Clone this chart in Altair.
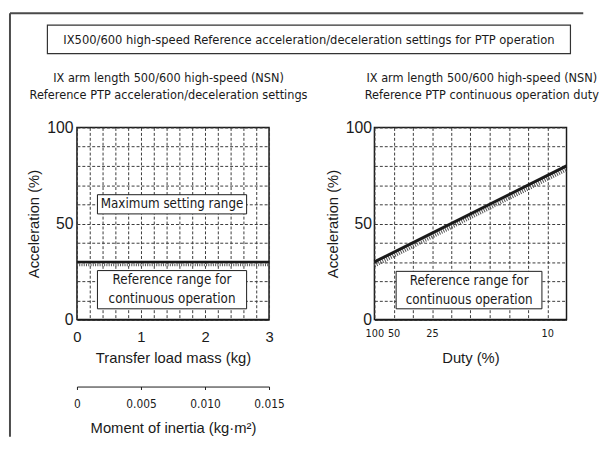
import altair as alt
import pandas as pd

# ---------------- data ----------------
# left panel: reference acceleration vs transfer load mass
mass_line_kg = [0, 3]
mass_line_acc = [30, 30]
mass_grid = [0, 0.2, 0.4, 0.6, 0.8, 1.0, 1.2, 1.4, 1.6, 1.8, 2.0, 2.2, 2.4, 2.6, 2.8, 3.0]
acc_grid = [0, 10, 20, 30, 40, 50, 60, 70, 80, 90, 100]
inertia_ticks = [0, 0.005, 0.010, 0.015]

# right panel: reference acceleration vs duty (axis linear in 1/duty)
duty_line_pct = [100, 9.0909]
duty_line_acc = [30, 80]
duty_grid_pct = [100, 50, 33.333, 25, 20, 16.667, 14.286, 12.5, 11.111, 10, 9.0909]
duty_labels = [100, 50, 25, 10]

NARROW = "DejaVu Sans Condensed"
REG = "Liberation Sans"
INK = "#1a1a1a"
GRID = "#3a3a3a"
W = 195
H = 195

yscale = alt.Scale(domain=[0, 100], nice=False)


def y_axis(label_pad, title_x):
    return alt.Axis(
        values=acc_grid, tickCount=40,
        labelExpr="datum.value % 50 == 0 ? format(datum.value, 'd') : ''",
        labelOverlap=False, labelFlush=False,
        title="Acceleration (%)", titleFont=REG, titleFontSize=15,
        titleFontWeight="normal", titleColor=INK,
        titleX=title_x, titleBaseline="middle",
        labelFont=REG, labelFontSize=16, labelColor=INK, labelPadding=label_pad,
        ticks=False, tickSize=0, domain=False,
        grid=True, gridDash=[3, 2], gridColor=GRID, gridWidth=1,
    )


one = pd.DataFrame({"k": [0]})

# ---------------- left chart ----------------
left_df = pd.DataFrame({"mass": mass_line_kg, "acc": mass_line_acc})
lbase = alt.Chart(left_df)
lx = alt.X(
    "mass:Q", scale=alt.Scale(domain=[0, 3], nice=False, zero=False),
    axis=alt.Axis(
        values=mass_grid, tickCount=40,
        labelExpr="datum.value % 1 == 0 ? format(datum.value, 'd') : ''",
        labelOverlap=False, labelFlush=False,
        title="Transfer load mass (kg)", titleFont=REG, titleFontSize=15,
        titleFontWeight="normal", titleColor=INK, titleY=39, titleBaseline="middle",
        labelFont=REG, labelFontSize=15, labelColor=INK,
        labelPadding=17, labelBaseline="middle",
        ticks=False, tickSize=0, domain=True, domainColor=INK, domainWidth=1.5,
        grid=True, gridDash=[3, 2], gridColor=GRID, gridWidth=1,
    ),
)
ly = alt.Y("acc:Q", scale=yscale, axis=y_axis(4, -44))

l_hatch = lbase.mark_line(color="#555", strokeWidth=3, strokeDash=[1, 1.3], yOffset=3).encode(x=lx, y=ly)
l_line = lbase.mark_line(color=INK, strokeWidth=2.5).encode(x=lx, y=ly)

l_box1 = alt.Chart(one).mark_rect(fill="white", stroke=INK, strokeWidth=1).encode(
    x=alt.datum(0.32), x2=alt.datum(2.65), y=alt.datum(65), y2=alt.datum(55))
l_txt1 = alt.Chart(one).mark_text(text="Maximum setting range", font=NARROW, fontSize=13.5,
                                 color=INK, baseline="middle").encode(
    x=alt.datum(1.485), y=alt.datum(60))
l_box2 = alt.Chart(one).mark_rect(fill="white", stroke=INK, strokeWidth=1).encode(
    x=alt.datum(0.32), x2=alt.datum(2.65), y=alt.datum(25.5), y2=alt.datum(5.6))
l_txt2 = alt.Chart(one).mark_text(text=["Reference range for", "continuous operation"],
                                 font=NARROW, fontSize=13.5, lineHeight=19,
                                 color=INK, baseline="middle").encode(
    x=alt.datum(1.485), y=alt.datum(20.5))

# decorations (page frame, title box, subtitles) placed relative to left plot
frame_top = alt.Chart(one).mark_rule(color="#4a4a4a", strokeWidth=2).encode(
    x=alt.value(-68), x2=alt.value(514), y=alt.value(-116))
frame_left = alt.Chart(one).mark_rule(color="#4a4a4a", strokeWidth=2).encode(
    x=alt.value(-68), y=alt.value(-116), y2=alt.value(314))
title_box = alt.Chart(one).mark_rect(fill="white", stroke="#333", strokeWidth=1.2).encode(
    x=alt.value(-30), x2=alt.value(501), y=alt.value(-104), y2=alt.value(-75))
title_txt = alt.Chart(one).mark_text(
    text="IX500/600 high-speed Reference acceleration/deceleration settings for PTP operation",
    font=NARROW, fontSize=13, color=INK, baseline="middle").encode(
    x=alt.value(235.5), y=alt.value(-89))
l_sub = alt.Chart(one).mark_text(
    text=["IX arm length 500/600 high-speed (NSN)", "Reference PTP acceleration/deceleration settings"],
    font=NARROW, fontSize=12.8, lineHeight=17, color=INK, baseline="middle").encode(
    x=alt.value(93), y=alt.value(-50))

inertia_df = pd.DataFrame({"inertia": inertia_ticks})
inertia_layer = alt.Chart(inertia_df).mark_point(opacity=0).encode(
    x=alt.X("inertia:Q", scale=alt.Scale(domain=[0, 0.015], nice=False, zero=False),
            axis=alt.Axis(
                orient="bottom", offset=68, values=inertia_ticks, tickCount=40,
                labelExpr="datum.value == 0 ? '0' : format(datum.value, '.3f')",
                labelOverlap=False, labelFlush=False,
                title="Moment of inertia (kg·m²)", titleFont=REG, titleFontSize=15,
                titleFontWeight="normal", titleColor=INK, titleY=42, titleBaseline="middle",
                labelFont=NARROW, labelFontSize=12, labelColor=INK,
                labelPadding=14, labelBaseline="middle",
                ticks=True, tickSize=3, tickColor=INK, domain=True,
                domainColor=INK, domainWidth=1, grid=False)),
    y=alt.value(0),
)

left_main = alt.layer(frame_top, frame_left, title_box, title_txt, l_sub,
                      l_hatch, l_line, l_box1, l_txt1, l_box2, l_txt2)
left = alt.layer(left_main, inertia_layer).resolve_scale(x="independent").properties(width=W, height=H)

# ---------------- right chart ----------------
right_df = pd.DataFrame({"duty": duty_line_pct, "acc": duty_line_acc})
inv_grid = [1.0 / d for d in duty_grid_pct]
lab_list = ",".join(str(d) for d in duty_labels)
rx = alt.X(
    "inv:Q", scale=alt.Scale(domain=[0.01, 0.11], nice=False, zero=False),
    axis=alt.Axis(
        values=inv_grid, tickCount=40,
        labelExpr=f"indexof([{lab_list}], round(1/datum.value)) >= 0 ? format(round(1/datum.value), 'd') : ''",
        labelOverlap=False, labelFlush=False,
        title="Duty (%)", titleFont=REG, titleFontSize=15,
        titleFontWeight="normal", titleColor=INK, titleY=39, titleBaseline="middle",
        labelFont=NARROW, labelFontSize=11, labelColor=INK,
        labelPadding=14, labelBaseline="middle",
        ticks=False, tickSize=0, domain=True, domainColor=INK, domainWidth=1.5,
        grid=True, gridDash=[3, 2], gridColor=GRID, gridWidth=1,
    ),
)
ry = alt.Y("acc:Q", scale=yscale, axis=y_axis(3, -42))
rbase = alt.Chart(right_df).transform_calculate(inv="1 / datum.duty")

r_hatch = rbase.mark_line(color="#555", strokeWidth=4, strokeDash=[1, 1.3], yOffset=3.5).encode(x=rx, y=ry)
r_line = rbase.mark_line(color=INK, strokeWidth=3).encode(x=rx, y=ry)
r_box = alt.Chart(one).mark_rect(fill="white", stroke=INK, strokeWidth=1).encode(
    x=alt.datum(0.0213), x2=alt.datum(0.0972), y=alt.datum(25.1), y2=alt.datum(5.6))
r_txt = alt.Chart(one).mark_text(text=["Reference range for", "continuous operation"],
                                font=NARROW, fontSize=13.5, lineHeight=19,
                                color=INK, baseline="middle").encode(
    x=alt.datum(0.0593), y=alt.datum(19.8))
r_sub = alt.Chart(one).mark_text(
    text=["IX arm length 500/600 high-speed (NSN)", "Reference PTP continuous operation duty"],
    font=NARROW, fontSize=12.8, lineHeight=17, color=INK, baseline="middle").encode(
    x=alt.value(109), y=alt.value(-50))

right = alt.layer(r_sub, r_hatch, r_line, r_box, r_txt).properties(width=W, height=H)

chart = alt.hconcat(left, right, spacing=107, bounds="flush").properties(
    padding=0, background="white"
).configure_view(stroke=INK, strokeWidth=1.5)

chart.save("out.html", embed_options={"renderer": "svg", "actions": False})
